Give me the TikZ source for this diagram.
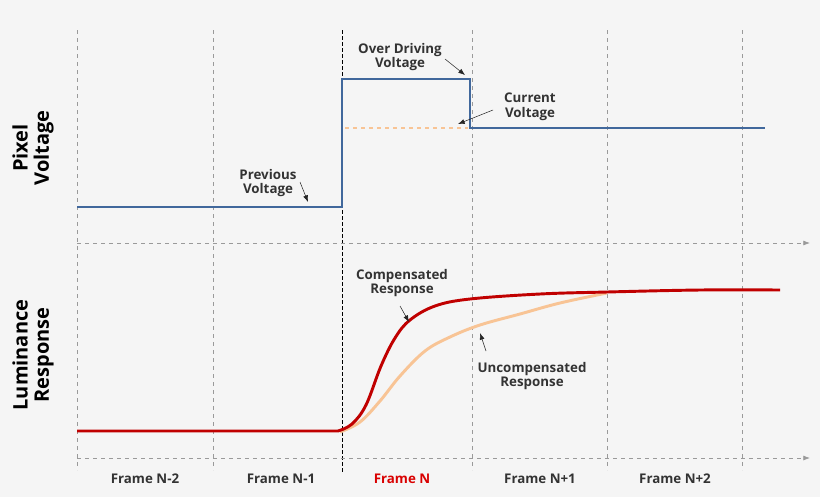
\documentclass[tikz,border=0pt]{standalone}
\usepackage{fontspec}
\setmainfont{Open Sans}
\usetikzlibrary{arrows.meta,positioning}
\definecolor{bgcol}{HTML}{F5F5F5}
\definecolor{voltblue}{HTML}{41689C}
\definecolor{respred}{HTML}{C00000}
\definecolor{uncomp}{HTML}{F8C495}
\definecolor{gridgray}{HTML}{9A9A9A}
\tikzset{
  grid line/.style={gridgray, dashed, thin},
  axis line/.style={gridgray, dashed, semithick, -{Latex[length=5pt]}},
  lbl/.style={align=center, font=\fontsize{10}{11}\selectfont\bfseries, text=black!80, inner sep=1pt},
  axis lbl/.style={align=center, rotate=90, font=\fontsize{15}{16}\selectfont\bfseries, inner sep=0pt},
  pointer/.style={-{Latex[length=5pt]}, thin, black!85}
}
\begin{document}
\begin{tikzpicture}[x=0.75pt, y=-0.75pt]
  % background
  \fill[bgcol] (0,0) rectangle (820,497);
  \useasboundingbox (0,0) rectangle (820,497);

  % frame boundaries
  \foreach \fx in {77,213,472,607,742}
    \draw[grid line] (\fx,30) -- (\fx,470);
  \draw[black, dash pattern=on 3pt off 1.5pt, semithick] (342,30) -- (342,472);

  % axes
  \coordinate (a1s) at (77,243);  \coordinate (a1e) at (810,243);
  \coordinate (a2s) at (77,458);  \coordinate (a2e) at (810,458);
  \draw[axis line] (a1s) -- (a1e);
  \draw[axis line] (a2s) -- (a2e);

  % axis labels
  \node[axis lbl] (pixlbl) at (33,148) {Pixel\\Voltage};
  \node[axis lbl] (lumlbl) at (33,355) {Luminance\\Response};

  % pixel voltage
  \draw[uncomp, dashed, thick] (345,128) -- (468,128);
  \draw[voltblue, line width=2.2pt] (77,207) -- (342,207) -- (342,79) -- (470,79) -- (470,128) -- (765,128);

  % luminance responses
  \draw[uncomp, line width=2.2pt] plot[smooth, tension=0.6] coordinates {(340,432) (360,422) (380,401) (400,376) (425,351) (450,337) (480,325) (520,314) (560,303) (607,293)};
  \draw[respred, line width=2.2pt] (77,431) -- (338,431)
    plot[smooth, tension=0.6] coordinates {(338,431) (352,424) (366,405) (381,366) (395,338) (410,320) (435,306) (470,299) (540,294) (607,292) (700,290) (780,290)};

  % annotations
  \node[lbl] (overlbl) at (400,57) {Over Driving\\Voltage};
  \node[lbl] (curlbl) at (530,107) {Current\\Voltage};
  \node[lbl] (prevlbl) at (268,183) {Previous\\Voltage};
  \node[lbl] (complbl) at (402,283) {Compensated\\Response};
  \node[lbl] (uncomplbl) at (532,376) {Uncompensated\\Response};
  \coordinate (overtip) at (465,75);
  \coordinate (curtip) at (458,124);
  \coordinate (prevtip) at (308,202);
  \coordinate (comptip) at (409,322);
  \coordinate (uncomptip) at (480,333);
  \draw[pointer] (445,59) -- (overtip);
  \draw[pointer] (493,110) -- (curtip);
  \draw[pointer] (300,182) -- (prevtip);
  \draw[pointer] (400,306) -- (comptip);
  \draw[pointer] (486,351) -- (uncomptip);

  % frame names
  \node[lbl] (f1) at (145,479) {Frame N-2};
  \node[lbl] (f2) at (281,479) {Frame N-1};
  \node[lbl, text=red!85!black] (f3) at (402,479) {Frame N};
  \node[lbl] (f4) at (540,479) {Frame N+1};
  \node[lbl] (f5) at (675,479) {Frame N+2};
\end{tikzpicture}
\end{document}
